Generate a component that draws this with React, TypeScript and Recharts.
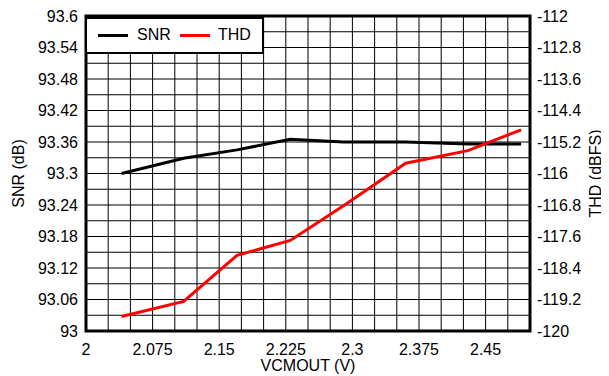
import React from 'react';
import { LineChart, Line, XAxis, YAxis, CartesianGrid, ReferenceArea } from 'recharts';

const vcmout = [2.04, 2.11, 2.17, 2.23, 2.29, 2.36, 2.43, 2.49];
const snr = [93.3, 93.329, 93.345, 93.365, 93.36, 93.36, 93.356, 93.356];
const thd = [-119.63, -119.25, -118.08, -117.7, -116.82, -115.74, -115.42, -114.89];

const xGridTicks = [2, 2.025, 2.05, 2.075, 2.1, 2.125, 2.15, 2.175, 2.2, 2.225, 2.25, 2.275, 2.3, 2.325, 2.35, 2.375, 2.4, 2.425, 2.45, 2.475, 2.5];
const xLabels = [2, 2.075, 2.15, 2.225, 2.3, 2.375, 2.45];
const snrGridTicks = [93, 93.03, 93.06, 93.09, 93.12, 93.15, 93.18, 93.21, 93.24, 93.27, 93.3, 93.33, 93.36, 93.39, 93.42, 93.45, 93.48, 93.51, 93.54, 93.57, 93.6];
const snrLabels = [93, 93.06, 93.12, 93.18, 93.24, 93.3, 93.36, 93.42, 93.48, 93.54, 93.6];
const thdTicks = [-120, -119.2, -118.4, -117.6, -116.8, -116, -115.2, -114.4, -113.6, -112.8, -112];

const data = vcmout.map((v, i) => ({ v, snr: snr[i], thd: thd[i] }));

const FONT = '"Liberation Sans", Arial, Helvetica, sans-serif';
const tickStyle = { fill: '#000', fontSize: 16, fontFamily: FONT };

export default function App() {
  return (
    <div style={{ position: 'relative', width: 601, height: 368, fontFamily: FONT }}>
      <LineChart width={601} height={368} data={data} margin={{ top: 8, right: 2, bottom: 0, left: 8 }}>
        <CartesianGrid yAxisId="left" stroke="#000" strokeWidth={1} />
        <XAxis
          dataKey="v"
          type="number"
          domain={[2, 2.5]}
          ticks={xGridTicks}
          interval={0}
          tickFormatter={(t: number) => (xLabels.includes(t) ? String(t) : '')}
          tickLine={false}
          axisLine={false}
          tickMargin={7}
          tick={tickStyle}
          height={45}
          label={{ value: 'VCMOUT (V)', position: 'insideBottom', offset: 5, fill: '#000', fontSize: 16, fontFamily: FONT }}
        />
        <YAxis
          yAxisId="left"
          type="number"
          domain={[93, 93.6]}
          ticks={snrGridTicks}
          interval={0}
          tickFormatter={(t: number) => (snrLabels.includes(t) ? String(t) : '')}
          tickLine={false}
          axisLine={false}
          tickMargin={2}
          tick={tickStyle}
          width={70}
          label={{ value: 'SNR (dB)', angle: -90, position: 'insideLeft', offset: 2, fill: '#000', fontSize: 16, fontFamily: FONT, style: { textAnchor: 'middle' } }}
        />
        <YAxis
          yAxisId="right"
          orientation="right"
          type="number"
          domain={[-120, -112]}
          ticks={thdTicks}
          interval={0}
          tickLine={false}
          axisLine={false}
          tickMargin={1}
          tick={tickStyle}
          width={77}
          label={{ value: 'THD (dBFS)', angle: -90, position: 'insideRight', offset: 12, fill: '#000', fontSize: 16, fontFamily: FONT, style: { textAnchor: 'middle' } }}
        />
        <Line yAxisId="left" dataKey="snr" stroke="#000" strokeWidth={3} dot={false} isAnimationActive={false} />
        <Line yAxisId="right" dataKey="thd" stroke="#ff0000" strokeWidth={3} dot={false} isAnimationActive={false} />
        <ReferenceArea yAxisId="left" x1={2} x2={2.5} y1={93} y2={93.6} stroke="#000" strokeWidth={3} fill="none" fillOpacity={0} ifOverflow="visible" />
      </LineChart>
      <div
        style={{
          position: 'absolute',
          left: 77,
          top: 9,
          width: 179,
          height: 37,
          boxSizing: 'border-box',
          border: '2px solid #000',
          background: '#fff',
          fontSize: 16,
          color: '#000',
        }}
      >
        <div style={{ position: 'absolute', left: 11, top: 15, width: 30, height: 3, background: '#000' }} />
        <div style={{ position: 'absolute', left: 50, top: 6, lineHeight: '20px' }}>SNR</div>
        <div style={{ position: 'absolute', left: 93, top: 15, width: 30, height: 3, background: '#ff0000' }} />
        <div style={{ position: 'absolute', left: 131, top: 6, lineHeight: '20px' }}>THD</div>
      </div>
    </div>
  );
}
